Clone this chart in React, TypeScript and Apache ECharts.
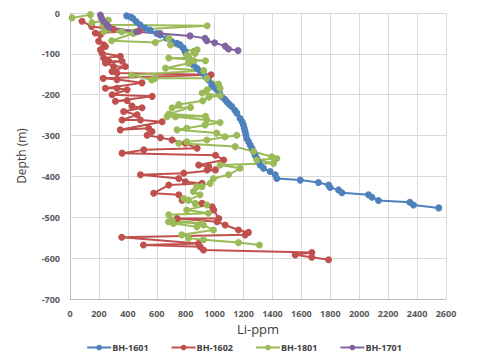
import React, { useEffect, useRef } from "react";
import * as echarts from "echarts";

const seriesNames = ["BH-1601", "BH-1602", "BH-1801", "BH-1701"];
const seriesColors = ["#4F81BD", "#C0504D", "#9BBB59", "#8064A2"];

const bh1601: number[][] = [
  [392, -7], [420, -10], [434, -13], [457, -21], [484, -29], [519, -37], [554, -42], [600, -50], [623, -54],
  [669, -62], [704, -70], [740, -74], [761, -78], [784, -86], [796, -95], [807, -103], [818, -109], [830, -115],
  [853, -127], [877, -135], [900, -142], [922, -148], [940, -156], [957, -164], [980, -176], [1000, -182],
  [1015, -188], [1035, -196], [1050, -205], [1070, -211], [1084, -217], [1100, -223], [1119, -229], [1140, -238],
  [1154, -245], [1176, -258], [1190, -266], [1199, -274], [1205, -282], [1211, -290], [1216, -298], [1222, -307],
  [1235, -315], [1246, -323], [1258, -331], [1268, -339], [1280, -348], [1292, -356], [1303, -364], [1315, -372],
  [1338, -380], [1384, -388], [1419, -396], [1430, -405], [1592, -409], [1718, -415], [1788, -421], [1799, -427],
  [1857, -433], [1880, -440], [2064, -445], [2088, -451], [2133, -459], [2350, -463], [2375, -470], [2550, -477],
];

const bh1602: number[][] = [
  [83, -20], [150, -33], [300, -40], [480, -44], [175, -49], [210, -53], [198, -69], [233, -78], [245, -82],
  [210, -90], [221, -98], [348, -106], [233, -110], [268, -118], [360, -118], [245, -122], [302, -131], [383, -131],
  [291, -143], [325, -147], [975, -151], [230, -160], [325, -163], [498, -171], [245, -184], [325, -184],
  [395, -188], [291, -200], [568, -204], [314, -216], [395, -214], [429, -228], [498, -232], [371, -241],
  [464, -249], [360, -262], [487, -262], [637, -266], [348, -286], [544, -282], [567, -290], [533, -299],
  [625, -305], [706, -311], [798, -319], [879, -331], [510, -335], [360, -343], [1006, -348], [1063, -360],
  [890, -372], [960, -376], [948, -384], [1006, -384], [787, -392], [487, -396], [752, -405], [798, -413],
  [913, -417], [683, -421], [579, -441], [752, -445], [775, -458], [913, -466], [983, -474], [994, -482],
  [1029, -503], [740, -503], [1017, -511], [1073, -519], [1165, -531], [1234, -537], [1211, -543], [358, -549],
  [888, -564], [508, -568], [900, -572], [923, -580], [1672, -586], [1557, -592], [1672, -598], [1788, -604],
];

const bh1801: number[][] = [
  [14, -12], [141, -4], [152, -24], [265, -17], [231, -29], [948, -31], [233, -45], [358, -46], [438, -50],
  [288, -68], [590, -72], [683, -62], [694, -78], [856, -94], [879, -90], [865, -99], [808, -103], [821, -110],
  [683, -110], [937, -117], [856, -117], [819, -123], [660, -135], [925, -141], [427, -152], [565, -164],
  [588, -160], [946, -160], [1027, -174], [1038, -184], [948, -188], [914, -196], [1038, -202], [960, -206],
  [918, -215], [752, -224], [706, -232], [833, -231], [683, -247], [937, -253], [671, -254], [729, -254],
  [946, -262], [1038, -268], [934, -274], [807, -282], [740, -286], [1015, -294], [1072, -303], [1153, -299],
  [946, -311], [807, -315], [752, -319], [1142, -327], [1268, -339], [1395, -352], [1430, -356], [1292, -360],
  [1407, -368], [1038, -372], [1176, -380], [1096, -396], [992, -405], [969, -417], [876, -425], [913, -425],
  [853, -437], [899, -445], [819, -458], [787, -454], [865, -466], [946, -470], [807, -482], [957, -490],
  [683, -494], [706, -507], [913, -515], [681, -511], [715, -515], [877, -523], [923, -519], [992, -531],
  [773, -543], [819, -551], [923, -555], [1165, -562], [1310, -568],
];

const bh1701: number[][] = [
  [210, -5], [217, -12], [233, -20], [254, -29], [270, -35], [461, -46], [623, -50], [830, -56], [934, -62],
  [946, -68], [1000, -73], [1073, -81], [1096, -88], [1162, -92],
];

const seriesData = [bh1601, bh1602, bh1801, bh1701];

const xTicks = { min: 0, max: 2600, interval: 200 };
const yTicks = { min: -700, max: 0, interval: 100 };

const font = "'Open Sans', 'Noto Sans', sans-serif";

export default function App() {
  const ref = useRef<HTMLDivElement>(null);
  useEffect(() => {
    if (!ref.current) return;
    const chart = echarts.init(ref.current, undefined, { renderer: "svg" });
    chart.setOption({
      animation: false,
      backgroundColor: "#ffffff",
      grid: { left: 70, right: 42, top: 13, bottom: 64, containLabel: false },
      legend: {
        data: seriesNames,
        bottom: 6,
        left: "center",
        itemGap: 22,
        itemWidth: 24,
        itemHeight: 7,
        textStyle: { fontSize: 9, fontWeight: "bold", color: "#404040", fontFamily: font, padding: [0, 0, 0, -4] },
      },
      xAxis: {
        type: "value",
        min: xTicks.min,
        max: xTicks.max,
        interval: xTicks.interval,
        name: "Li-ppm",
        nameLocation: "middle",
        nameGap: 23,
        nameTextStyle: { fontSize: 13, color: "#404040", fontFamily: font },
        axisLine: { show: true, onZero: false, lineStyle: { color: "#BFBFBF" } },
        axisTick: { show: false },
        axisLabel: {
          fontSize: 9, fontWeight: "bold", color: "#595959", fontFamily: font, margin: 10,
          formatter: (v: number) => String(v),
        },
        splitLine: { show: true, lineStyle: { color: "#D9D9D9" } },
      },
      yAxis: {
        type: "value",
        min: yTicks.min,
        max: yTicks.max,
        interval: yTicks.interval,
        name: "Depth (m)",
        nameLocation: "middle",
        nameGap: 43,
        nameRotate: 90,
        nameTextStyle: { fontSize: 12, color: "#404040", fontFamily: font },
        axisLine: { show: true, lineStyle: { color: "#BFBFBF" } },
        axisTick: { show: false },
        axisLabel: {
          fontSize: 9, fontWeight: "bold", color: "#595959", fontFamily: font, margin: 10,
          formatter: (v: number) => String(v),
        },
        splitLine: { show: true, lineStyle: { color: "#D9D9D9" } },
      },
      series: seriesNames.map((name, i) => ({
        name,
        type: "line",
        data: seriesData[i],
        symbol: "circle",
        symbolSize: 7,
        showSymbol: true,
        color: seriesColors[i],
        lineStyle: { width: 2, color: seriesColors[i] },
        itemStyle: { color: seriesColors[i] },
      })),
    });
    return () => chart.dispose();
  }, []);
  return <div ref={ref} style={{ width: 488, height: 363, position: "absolute", left: 0, top: 0 }} />;
}
